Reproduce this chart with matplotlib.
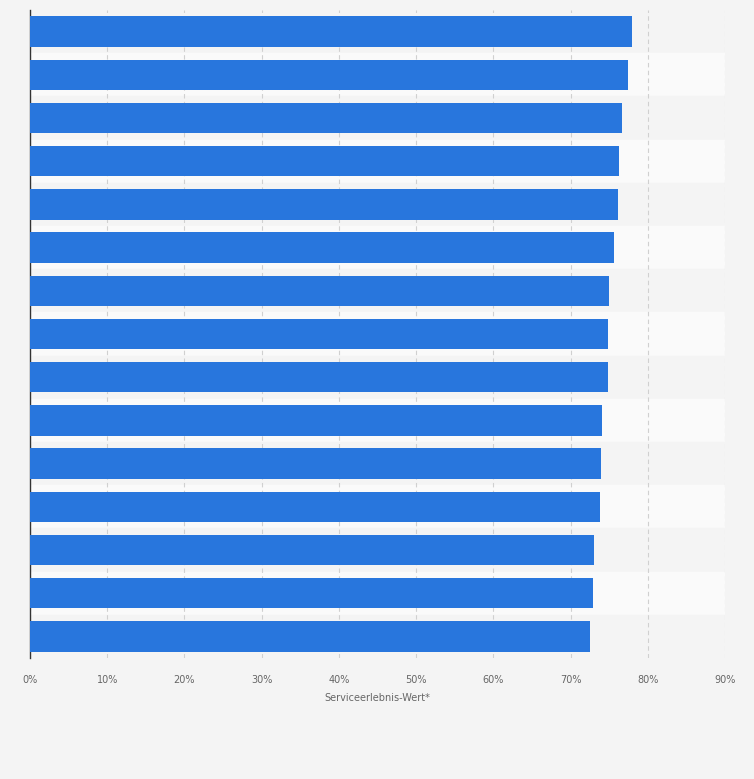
import matplotlib.pyplot as plt
import numpy as np

# values (top to bottom), percent
values = [78.0, 77.5, 76.6, 76.3, 76.2, 75.6, 75.0, 74.9, 74.9,
          74.1, 74.0, 73.8, 73.1, 72.9, 72.5]
ticks = list(range(0, 100, 10))
tick_labels = [f"{t}%" for t in ticks]

fig = plt.figure(figsize=(7.54, 7.79), dpi=100, facecolor="#f4f4f4")
ax = fig.add_axes([30 / 754, 121 / 779, 695 / 754, 648 / 779])
ax.set_facecolor("#f4f4f4")

n = len(values)
y = np.arange(n)
for i in range(n):
    ax.axhspan(i - 0.5, i + 0.5, color="#f4f4f4" if i % 2 == 0 else "#fafafa", zorder=0)

ax.barh(y, values, height=0.7, color="#2876dd", zorder=3)
ax.set_ylim(n - 0.5, -0.5)
ax.set_xlim(0, 90)
ax.set_yticks([])
ax.set_xticks(ticks)
ax.set_xticklabels(tick_labels, fontsize=7, color="#666666")
ax.tick_params(axis="x", length=0, pad=12)
ax.grid(axis="x", color="#d0d0d0", linestyle=(0, (4, 3)), linewidth=0.8, zorder=1)
for s in ["top", "right", "bottom"]:
    ax.spines[s].set_visible(False)
ax.spines["left"].set_color("#333333")
ax.spines["left"].set_linewidth(1)
ax.set_xlabel("Serviceerlebnis-Wert*", fontsize=7, color="#666666", labelpad=6)

fig.savefig("out.png", dpi=100, facecolor=fig.get_facecolor())
